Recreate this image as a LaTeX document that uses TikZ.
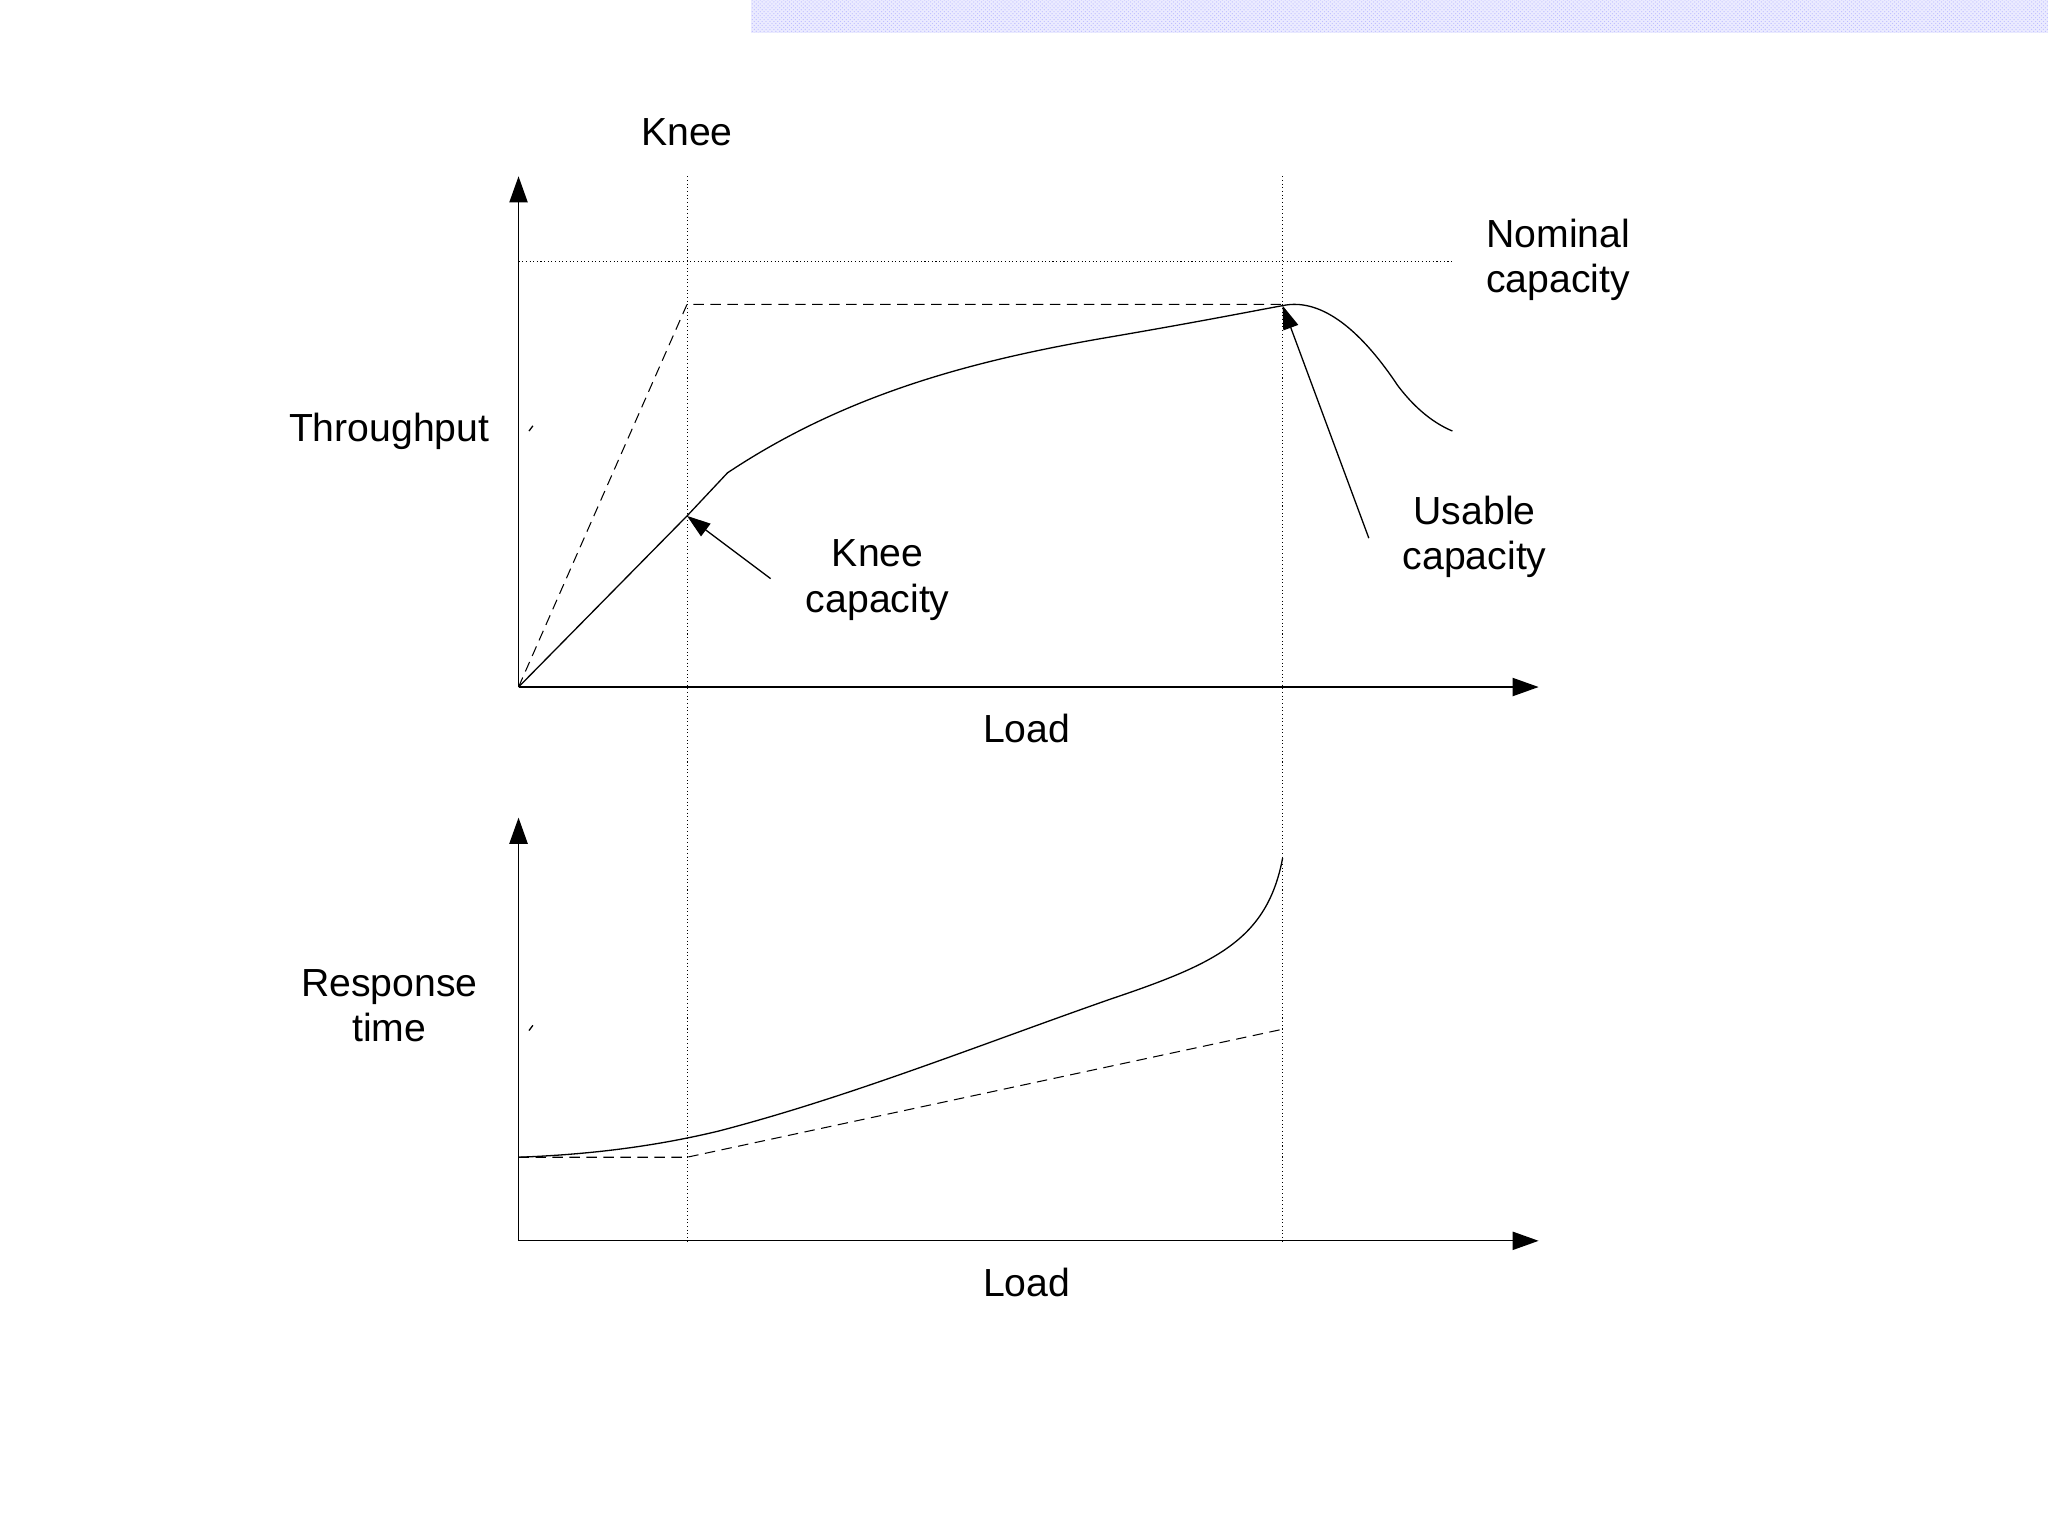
\documentclass[tikz,border=0pt]{standalone}
\usepackage{fontspec}
\setmainfont{Liberation Sans}
\usetikzlibrary{arrows.meta,patterns}
\begin{document}
\begin{tikzpicture}[x=1pt,y=-1pt,line width=1pt,
  ax/.style={-{Triangle[length=20pt,width=14pt]}},
  pt/.style={-{Triangle[length=18pt,width=12pt]}},
  lbl/.style={font=\fontsize{30}{35}\selectfont,align=center},
  guide/.style={dotted,line width=0.8pt},
  dsh/.style={dashed,dash pattern=on 8pt off 5pt,line width=0.8pt}]
\useasboundingbox (0,0) rectangle (1568,1176);
\fill[blue!8] (575,0) rectangle (1568,25);
\fill[pattern=crosshatch dots,pattern color=blue!25] (575,0) rectangle (1568,25);
% top
\coordinate (o1) at (397,526);
\coordinate (y1) at (397,135);
\coordinate (x1) at (1178,526);
\draw[ax] (o1) -- (y1);
\draw[ax] (o1) -- (x1);
\coordinate (kt) at (526,135); \coordinate (kb) at (526,950);
\coordinate (ut) at (982,135); \coordinate (ub) at (982,950);
\draw[guide] (kt) -- (kb);
\draw[guide] (ut) -- (ub);
\coordinate (n1) at (397,200); \coordinate (n2) at (1112,200);
\draw[guide] (n1) -- (n2);
\coordinate (kd) at (526,233); \coordinate (ud) at (982,233);
\draw[dsh] (o1) -- (kd) -- (ud);
\coordinate (kc) at (526,395);
\coordinate (uc) at (982,234);
\draw (o1) -- (kc) -- (557,362) .. controls (650,300) and (750,275) .. (850,258)
  .. controls (920,246) and (960,238) .. (uc)
  .. controls (1010,228) and (1040,250) .. (1070,295) .. controls (1085,315) and (1100,325) .. (1112,330);
\node[lbl] (knee) at (526,101) {Knee};
\node[lbl] (nom) at (1193,199) {Nominal\\capacity};
\node[lbl] (thr) at (298,330) {Throughput};
\node[lbl] (kcap) at (672,444) {Knee\\capacity};
\node[lbl] (ucap) at (1129,411) {Usable\\capacity};
\node[lbl] (load1) at (786,558) {Load};
\coordinate (ka) at (590,443);
\coordinate (ua) at (1048,412);
\draw[pt] (ka) -- (kc);
\draw[pt] (ua) -- (uc);
\draw[line width=1pt] (405,330) -- (408,326);
% bottom
\coordinate (o2) at (397,950);
\draw[ax] (o2) -- (397,626);
\draw[ax] (o2) -- (1178,950);
\node[lbl] (load2) at (786,982) {Load};
\node[lbl] (rt) at (298,770) {Response\\time};
\draw[line width=1pt] (405,789) -- (408,785);
\coordinate (r0) at (397,886);
\coordinate (rk) at (526,886);
\coordinate (re) at (982,788);
\draw[dsh] (r0) -- (rk) -- (re);
\draw (r0) .. controls (450,884) and (500,878) .. (550,866)
  .. controls (650,840) and (750,800) .. (850,765)
  .. controls (930,738) and (970,720) .. (982,657);
\end{tikzpicture}
\end{document}
